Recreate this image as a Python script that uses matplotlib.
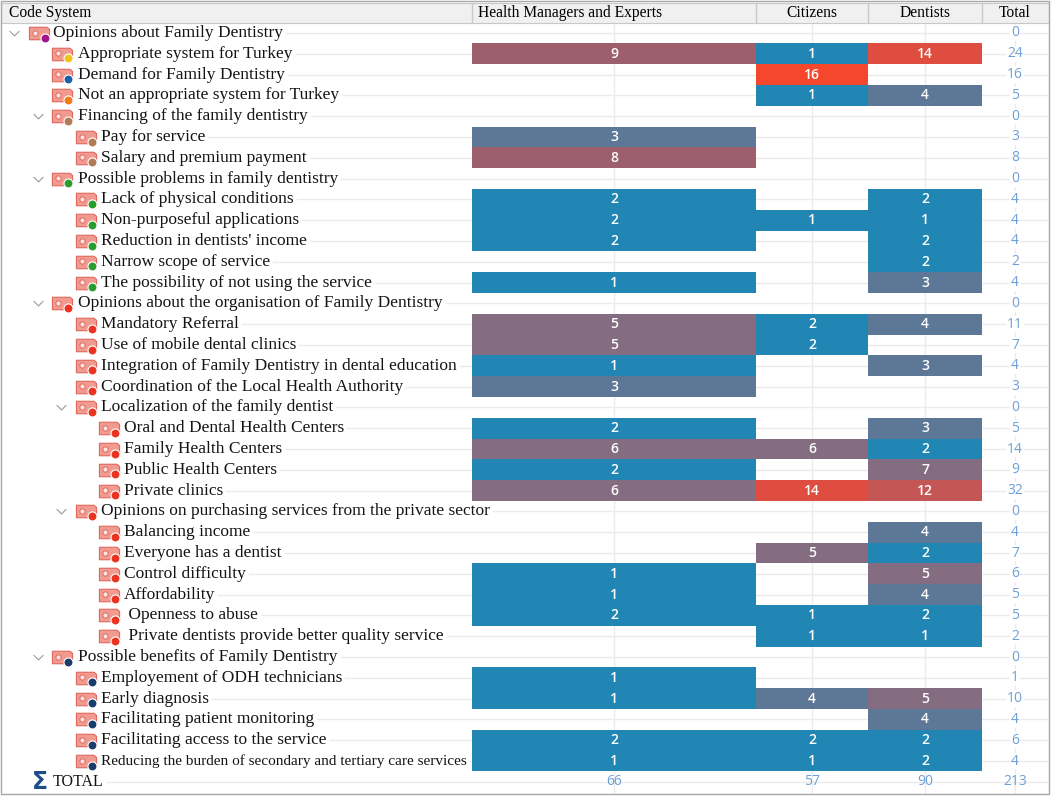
import matplotlib.pyplot as plt
from matplotlib.path import Path
from matplotlib.patches import Rectangle

# code tree (label, level, dot colour, expandable)
labels = [
    "Opinions about Family Dentistry",
    "Appropriate system for Turkey",
    "Demand for Family Dentistry",
    "Not an appropriate system for Turkey",
    "Financing of the family dentistry",
    "Pay for service",
    "Salary and premium payment",
    "Possible problems in family dentistry",
    "Lack of physical conditions",
    "Non-purposeful applications",
    "Reduction in dentists' income",
    "Narrow scope of service",
    "The possibility of not using the service",
    "Opinions about the organisation of Family Dentistry",
    "Mandatory Referral",
    "Use of mobile dental clinics",
    "Integration of Family Dentistry in dental education",
    "Coordination of the Local Health Authority",
    "Localization of the family dentist",
    "Oral and Dental Health Centers",
    "Family Health Centers",
    "Public Health Centers",
    "Private clinics",
    "Opinions on purchasing services from the private sector",
    "Balancing income",
    "Everyone has a dentist",
    "Control difficulty",
    "Affordability",
    " Openness to abuse",
    " Private dentists provide better quality service",
    "Possible benefits of Family Dentistry",
    "Employement of ODH technicians",
    "Early diagnosis",
    "Facilitating patient monitoring",
    "Facilitating access to the service",
    "Reducing the burden of secondary and tertiary care services",
]
levels = [0, 1, 1, 1, 1, 2, 2, 1, 2, 2, 2, 2, 2, 1, 2, 2, 2, 2, 2, 3, 3, 3, 3,
          2, 3, 3, 3, 3, 3, 3, 1, 2, 2, 2, 2, 2]
expandable = [0, 4, 7, 13, 18, 23, 30]

PURPLE, YELLOW, BLUE, ORANGE = '#a3148f', '#f2c417', '#1b5fa6', '#f27a1a'
BROWN, GREEN, RED, NAVY = '#b27a55', '#2a9d2f', '#ea3320', '#1b3d6b'
dot_colors = ([PURPLE, YELLOW, BLUE, ORANGE] + [BROWN] * 3 + [GREEN] * 6
              + [RED] * 17 + [NAVY] * 6)

groups = ["Health Managers and Experts", "Citizens", "Dentists"]
hme = [0, 9, 0, 0, 0, 3, 8, 0, 2, 2, 2, 0, 1, 0, 5, 5, 1, 3, 0, 2, 6, 2, 6,
       0, 0, 0, 1, 1, 2, 0, 0, 1, 1, 0, 2, 1]
cit = [0, 1, 16, 1, 0, 0, 0, 0, 0, 1, 0, 0, 0, 0, 2, 2, 0, 0, 0, 0, 6, 0, 14,
       0, 0, 5, 0, 0, 1, 1, 0, 0, 4, 0, 2, 1]
den = [0, 14, 0, 4, 0, 0, 0, 0, 2, 1, 2, 2, 3, 0, 4, 0, 3, 0, 0, 3, 2, 7, 12,
       0, 4, 2, 5, 4, 2, 1, 0, 0, 5, 4, 2, 2]


def shade(v):
    if v <= 2:
        return '#2186b3'
    if v <= 4:
        return '#5d7797'
    if v <= 7:
        return '#846d80'
    if v <= 10:
        return '#9e5f6d'
    if v <= 12:
        return '#c45656'
    if v <= 14:
        return '#df4d41'
    return '#f5472b'


W, H = 1052, 796
ROW0, ROWH = 33, 20.8
col_edges = [472, 756, 868, 982, 1048]
indent_text = [53, 78, 101, 124]
indent_icon = [39, 62, 86, 109]
indent_chev = [14, 38, 61]

SERIF = ['Liberation Serif', 'DejaVu Serif']
SANS = ['Open Sans', 'DejaVu Sans']
GRID = '#ebebeb'
TOTCOL = '#6e9fd6'


def py(p):
    return (p - ROW0) / ROWH


fig = plt.figure(figsize=(W / 100, H / 100), dpi=100)
ax = fig.add_axes([0, 0, 1, 1])
ax.set_xlim(0, W)
ax.set_ylim(py(H), py(0))
ax.axis('off')

n = len(labels)
rows = list(range(n))
total_row = n

# column centre gridlines
centers = [(col_edges[k] + col_edges[k + 1]) / 2 for k in range(4)]
for c in centers:
    ax.plot([c, c], [py(23), py(793)], color=GRID, lw=1, zorder=0)

# bars
for k, vals in enumerate([hme, cit, den]):
    idx = [i for i in rows if vals[i]]
    ax.barh(idx, col_edges[k + 1] - col_edges[k], left=col_edges[k], height=1.0,
            color=[shade(vals[i]) for i in idx], linewidth=0, zorder=2)
    for i in idx:
        ax.text(centers[k], i, str(vals[i]), color='white', ha='center',
                va='center', fontsize=10, family=SANS, weight='semibold',
                zorder=3)

# totals
row_tot = [hme[i] + cit[i] + den[i] for i in rows]
for i in rows:
    ax.text(centers[3], i, str(row_tot[i]), color=TOTCOL, ha='center',
            va='center', fontsize=10, family=SANS, zorder=3,
            bbox=dict(facecolor='white', edgecolor='none', pad=0.5))
col_tot = [sum(hme), sum(cit), sum(den), sum(row_tot)]
for k in range(4):
    ax.text(centers[k], total_row, str(col_tot[k]), color=TOTCOL, ha='center',
            va='center', fontsize=10, family=SANS, zorder=3)

# code labels and icons
tag = Path([(-1, -0.62), (0.75, -0.62), (1, -0.4), (1, 0.4), (0.75, 0.62),
            (-1, 0.62), (-1, -0.62)], closed=True)
chev = Path([(-1, 0.5), (0, -0.5), (1, 0.5)])
texts = []
for i in rows:
    L = levels[i]
    fs = 11 if i == n - 1 else 12.5
    t = ax.text(indent_text[L], i, labels[i], ha='left', va='center',
                fontsize=fs, family=SERIF, color='#141414', zorder=3)
    texts.append(t)
    x = indent_icon[L]
    ax.plot(x, i, marker=tag, ms=14.5, mfc='#f19a90', mec='#e0675e', mew=0.8,
            zorder=3)
    ax.plot(x - 4, i - 0.5 / ROWH, marker='o', ms=3.8, mfc='#fbe3df',
            mec='#e0675e', mew=0.7, zorder=4)
    ax.plot(x + 6, i + 4.5 / ROWH, marker='o', ms=6.5, mfc=dot_colors[i],
            mec='white', mew=0.8, zorder=5)
    if i in expandable:
        ax.plot(indent_chev[L], i, marker=chev, ms=7, mfc='none', mec='#9a9a9a',
                mew=0.8, zorder=3)

ax.text(40, total_row, "\u03a3", ha='center', va='center', fontsize=17,
        color='#1d4e89', weight='bold', zorder=3)
t_total = ax.text(53, total_row, "TOTAL", ha='left', va='center', fontsize=11.5,
                  family=SERIF, color='#141414', zorder=3)
texts.append(t_total)

# leader lines from end of each label
fig.canvas.draw()
rend = fig.canvas.get_renderer()
inv = ax.transData.inverted()
for i, t in enumerate(texts):
    bb = t.get_window_extent(rend)
    x_end = inv.transform((bb.x1, 0))[0]
    ax.plot([x_end + 3, col_edges[-1]], [i, i], color=GRID, lw=1, zorder=1)

# header
ax.add_patch(Rectangle((1, py(3)), 1048, py(23) - py(3), facecolor='#f0f0f0',
                       edgecolor='#c8c8c8', lw=0.8, zorder=4))
for x in col_edges[:-1]:
    ax.plot([x, x], [py(3), py(23)], color='#c8c8c8', lw=1, zorder=5)
ax.text(9, py(13), "Code System", ha='left', va='center', fontsize=11.2,
        family=SERIF, zorder=6)
ax.text(478, py(13), groups[0], ha='left', va='center', fontsize=11.2,
        family=SERIF, zorder=6)
for k in (1, 2):
    ax.text(centers[k], py(13), groups[k], ha='center', va='center',
            fontsize=11.2, family=SERIF, zorder=6)
ax.text(centers[3], py(13), "Total", ha='center', va='center', fontsize=11.2,
        family=SERIF, zorder=6)

# outer frame
ax.add_patch(Rectangle((1, py(1)), 1048, py(794) - py(1), facecolor='none',
                       edgecolor='#a8a8a8', lw=1, zorder=6))

fig.savefig('out.png', dpi=100)
